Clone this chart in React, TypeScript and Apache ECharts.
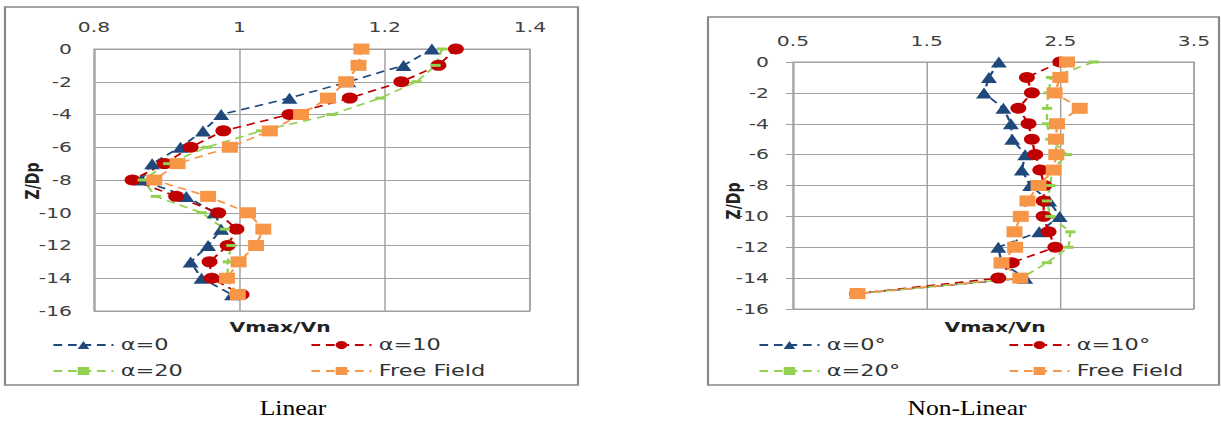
import React, { useEffect, useRef } from 'react';
import * as echarts from 'echarts';

// ---------- data ----------
const depths = [0, -1, -2, -3, -4, -5, -6, -7, -8, -9, -10, -11, -12, -13, -14, -15];

const linA0 = [1.265, 1.226, 1.15, 1.069, 0.975, 0.95, 0.919, 0.88, 0.865, 0.927, 0.966, 0.975, 0.957, 0.933, 0.948, 0.99];
const linA10 = [1.298, 1.274, 1.223, 1.152, 1.069, 0.978, 0.933, 0.897, 0.853, 0.913, 0.971, 0.996, 0.984, 0.959, 0.962, 1.003];
const linA20 = [1.279, 1.27, 1.244, 1.194, 1.127, 1.03, 0.955, 0.902, 0.867, 0.885, 0.948, 0.98, 0.989, 0.984, 0.984, 0.993];
const linFF = [1.168, 1.164, 1.147, 1.122, 1.085, 1.042, 0.987, 0.915, 0.883, 0.957, 1.012, 1.033, 1.023, 0.999, 0.983, 0.998];

const nlA0 = [2.04, 1.966, 1.929, 2.074, 2.13, 2.14, 2.237, 2.212, 2.274, 2.417, 2.495, 2.342, 2.036, 2.06, 2.237, 0.98];
const nlA10 = [2.5, 2.25, 2.287, 2.186, 2.262, 2.287, 2.312, 2.35, 2.38, 2.375, 2.375, 2.412, 2.462, 2.137, 2.036, 0.98];
const nlA20 = [2.75, 2.43, 2.412, 2.4, 2.4, 2.425, 2.55, 2.437, 2.425, 2.4, 2.425, 2.575, 2.562, 2.4, 2.21, 0.98];
const nlFF = [2.55, 2.5, 2.457, 2.645, 2.475, 2.468, 2.47, 2.45, 2.337, 2.254, 2.204, 2.157, 2.162, 2.06, 2.2, 0.983];

const linNames = ['α=0', 'α=10', 'α=20', 'Free Field'];
const nlNames = ['α=0°', 'α=10°', 'α=20°', 'Free Field'];
const captions = ['Linear', 'Non-Linear'];
const xName = 'Vmax/Vn';
const yName = 'Z/Dp';

// ---------- styling ----------
const S = 1.45; // horizontal stretch of the whole figure
const u = (x: number) => x / S;
const W = 1221 / S;

const BLUE = '#1F497D';
const RED = '#C00000';
const GREEN = '#92D050';
const ORANGE = '#F79646';
const GRIDC = '#A0A0A0';
const FONT = '"DejaVu Sans", sans-serif';

const pairs = (vals: number[]) => vals.map((v, i) => [v, depths[i]]);

function mk(name: string, vals: number[], color: string, symbol: string, size: any, idx: number) {
  return {
    type: 'line',
    name,
    xAxisIndex: idx,
    yAxisIndex: idx,
    data: pairs(vals),
    symbol,
    symbolSize: size,
    showSymbol: true,
    lineStyle: { color, width: 1.6, type: [6, 4] },
    itemStyle: { color },
    emphasis: { disabled: true },
  };
}

function legendAt(name: string, x: number, y: number) {
  return {
    data: [name],
    left: u(x),
    top: y,
    padding: 0,
    itemWidth: u(60),
    itemHeight: 10,
    itemGap: 0,
    selectedMode: false,
    textStyle: { fontFamily: FONT, fontSize: 15.5, color: '#333' },
  };
}

const axisLabelStyle = { fontFamily: FONT, fontSize: 14, color: '#404040' };

const option: any = {
  animation: false,
  backgroundColor: '#fff',
  grid: [
    { left: u(94), top: 49, width: u(530 - 94), height: 262, show: true, borderColor: GRIDC, borderWidth: 1 },
    { left: u(793), top: 62, width: u(1194 - 793), height: 247, show: true, borderColor: GRIDC, borderWidth: 1 },
  ],
  xAxis: [
    {
      type: 'value', gridIndex: 0, position: 'top', min: 0.8, max: 1.4, interval: 0.2,
      axisLine: { show: false }, axisTick: { show: false },
      axisLabel: { ...axisLabelStyle, margin: 15, formatter: (v: number) => String(+v.toFixed(1)) },
      splitLine: { lineStyle: { color: GRIDC, width: 1 } },
    },
    {
      type: 'value', gridIndex: 1, position: 'top', min: 0.5, max: 3.5, interval: 0.5,
      axisLine: { show: false }, axisTick: { show: false },
      axisLabel: {
        ...axisLabelStyle, margin: 14,
        formatter: (v: number) => (Math.abs(((v * 2) % 2) - 1) < 1e-6 ? String(v) : ''),
      },
      splitLine: { lineStyle: { color: [GRIDC, 'rgba(0,0,0,0)'], width: 1 } },
    },
  ],
  yAxis: [
    {
      type: 'value', gridIndex: 0, min: -16, max: 0, interval: 2,
      axisLine: { show: false }, axisTick: { show: false },
      axisLabel: { ...axisLabelStyle, margin: u(22) },
      splitLine: { lineStyle: { color: GRIDC, width: 1 } },
    },
    {
      type: 'value', gridIndex: 1, min: -16, max: 0, interval: 2,
      axisLine: { show: false },
      axisTick: { show: true, length: u(7), lineStyle: { color: GRIDC } },
      axisLabel: { ...axisLabelStyle, margin: u(24) },
      splitLine: { lineStyle: { color: GRIDC, width: 1 } },
    },
  ],
  legend: [
    legendAt(linNames[0], 52, 337),
    legendAt(linNames[1], 310, 337),
    legendAt(linNames[2], 52, 363),
    legendAt(linNames[3], 310, 363),
    legendAt(nlNames[0], 758, 337),
    legendAt(nlNames[1], 1008, 337),
    legendAt(nlNames[2], 758, 363),
    legendAt(nlNames[3], 1008, 363),
  ],
  graphic: [
    { type: 'rect', shape: { x: u(5), y: 7, width: u(573), height: 378 }, style: { fill: 'none', stroke: '#888', lineWidth: 1.5 } },
    { type: 'rect', shape: { x: u(708), y: 17, width: u(511), height: 368 }, style: { fill: 'none', stroke: '#888', lineWidth: 1.5 } },
    { type: 'text', x: u(280), y: 327, style: { text: xName, font: `bold 14px ${FONT}`, fill: '#222', align: 'center', verticalAlign: 'middle' } },
    { type: 'text', x: u(995), y: 327, style: { text: xName, font: `bold 14px ${FONT}`, fill: '#222', align: 'center', verticalAlign: 'middle' } },
    { type: 'text', x: u(32), y: 181, rotation: Math.PI / 2, style: { text: yName, font: `bold 14px ${FONT}`, fill: '#222', align: 'center', verticalAlign: 'middle' } },
    { type: 'text', x: u(733), y: 201, rotation: Math.PI / 2, style: { text: yName, font: `bold 14px ${FONT}`, fill: '#222', align: 'center', verticalAlign: 'middle' } },
    { type: 'text', x: u(293), y: 408, scaleX: 0.88, style: { text: captions[0], font: '20px "Liberation Serif", serif', fill: '#000', align: 'center', verticalAlign: 'middle' } },
    { type: 'text', x: u(967), y: 408, scaleX: 0.88, style: { text: captions[1], font: '20px "Liberation Serif", serif', fill: '#000', align: 'center', verticalAlign: 'middle' } },
  ],
  series: [
    mk(linNames[0], linA0, BLUE, 'triangle', 11, 0),
    mk(linNames[1], linA10, RED, 'circle', 11, 0),
    mk(linNames[2], linA20, GREEN, 'rect', [7, 3], 0),
    mk(linNames[3], linFF, ORANGE, 'rect', 11, 0),
    mk(nlNames[0], nlA0, BLUE, 'triangle', 11, 1),
    mk(nlNames[1], nlA10, RED, 'circle', 11, 1),
    mk(nlNames[2], nlA20, GREEN, 'rect', [7, 3], 1),
    mk(nlNames[3], nlFF, ORANGE, 'rect', 11, 1),
  ],
};

export default function App() {
  const ref = useRef<HTMLDivElement>(null);
  useEffect(() => {
    document.body.style.margin = '0';
    const chart = echarts.init(ref.current!, null, { renderer: 'svg' });
    chart.setOption(option);
    return () => chart.dispose();
  }, []);
  return (
    <div style={{ width: 1221, height: 423, overflow: 'hidden', background: '#fff' }}>
      <div ref={ref} style={{ width: W, height: 423, transform: `scaleX(${S})`, transformOrigin: '0 0' }} />
    </div>
  );
}
